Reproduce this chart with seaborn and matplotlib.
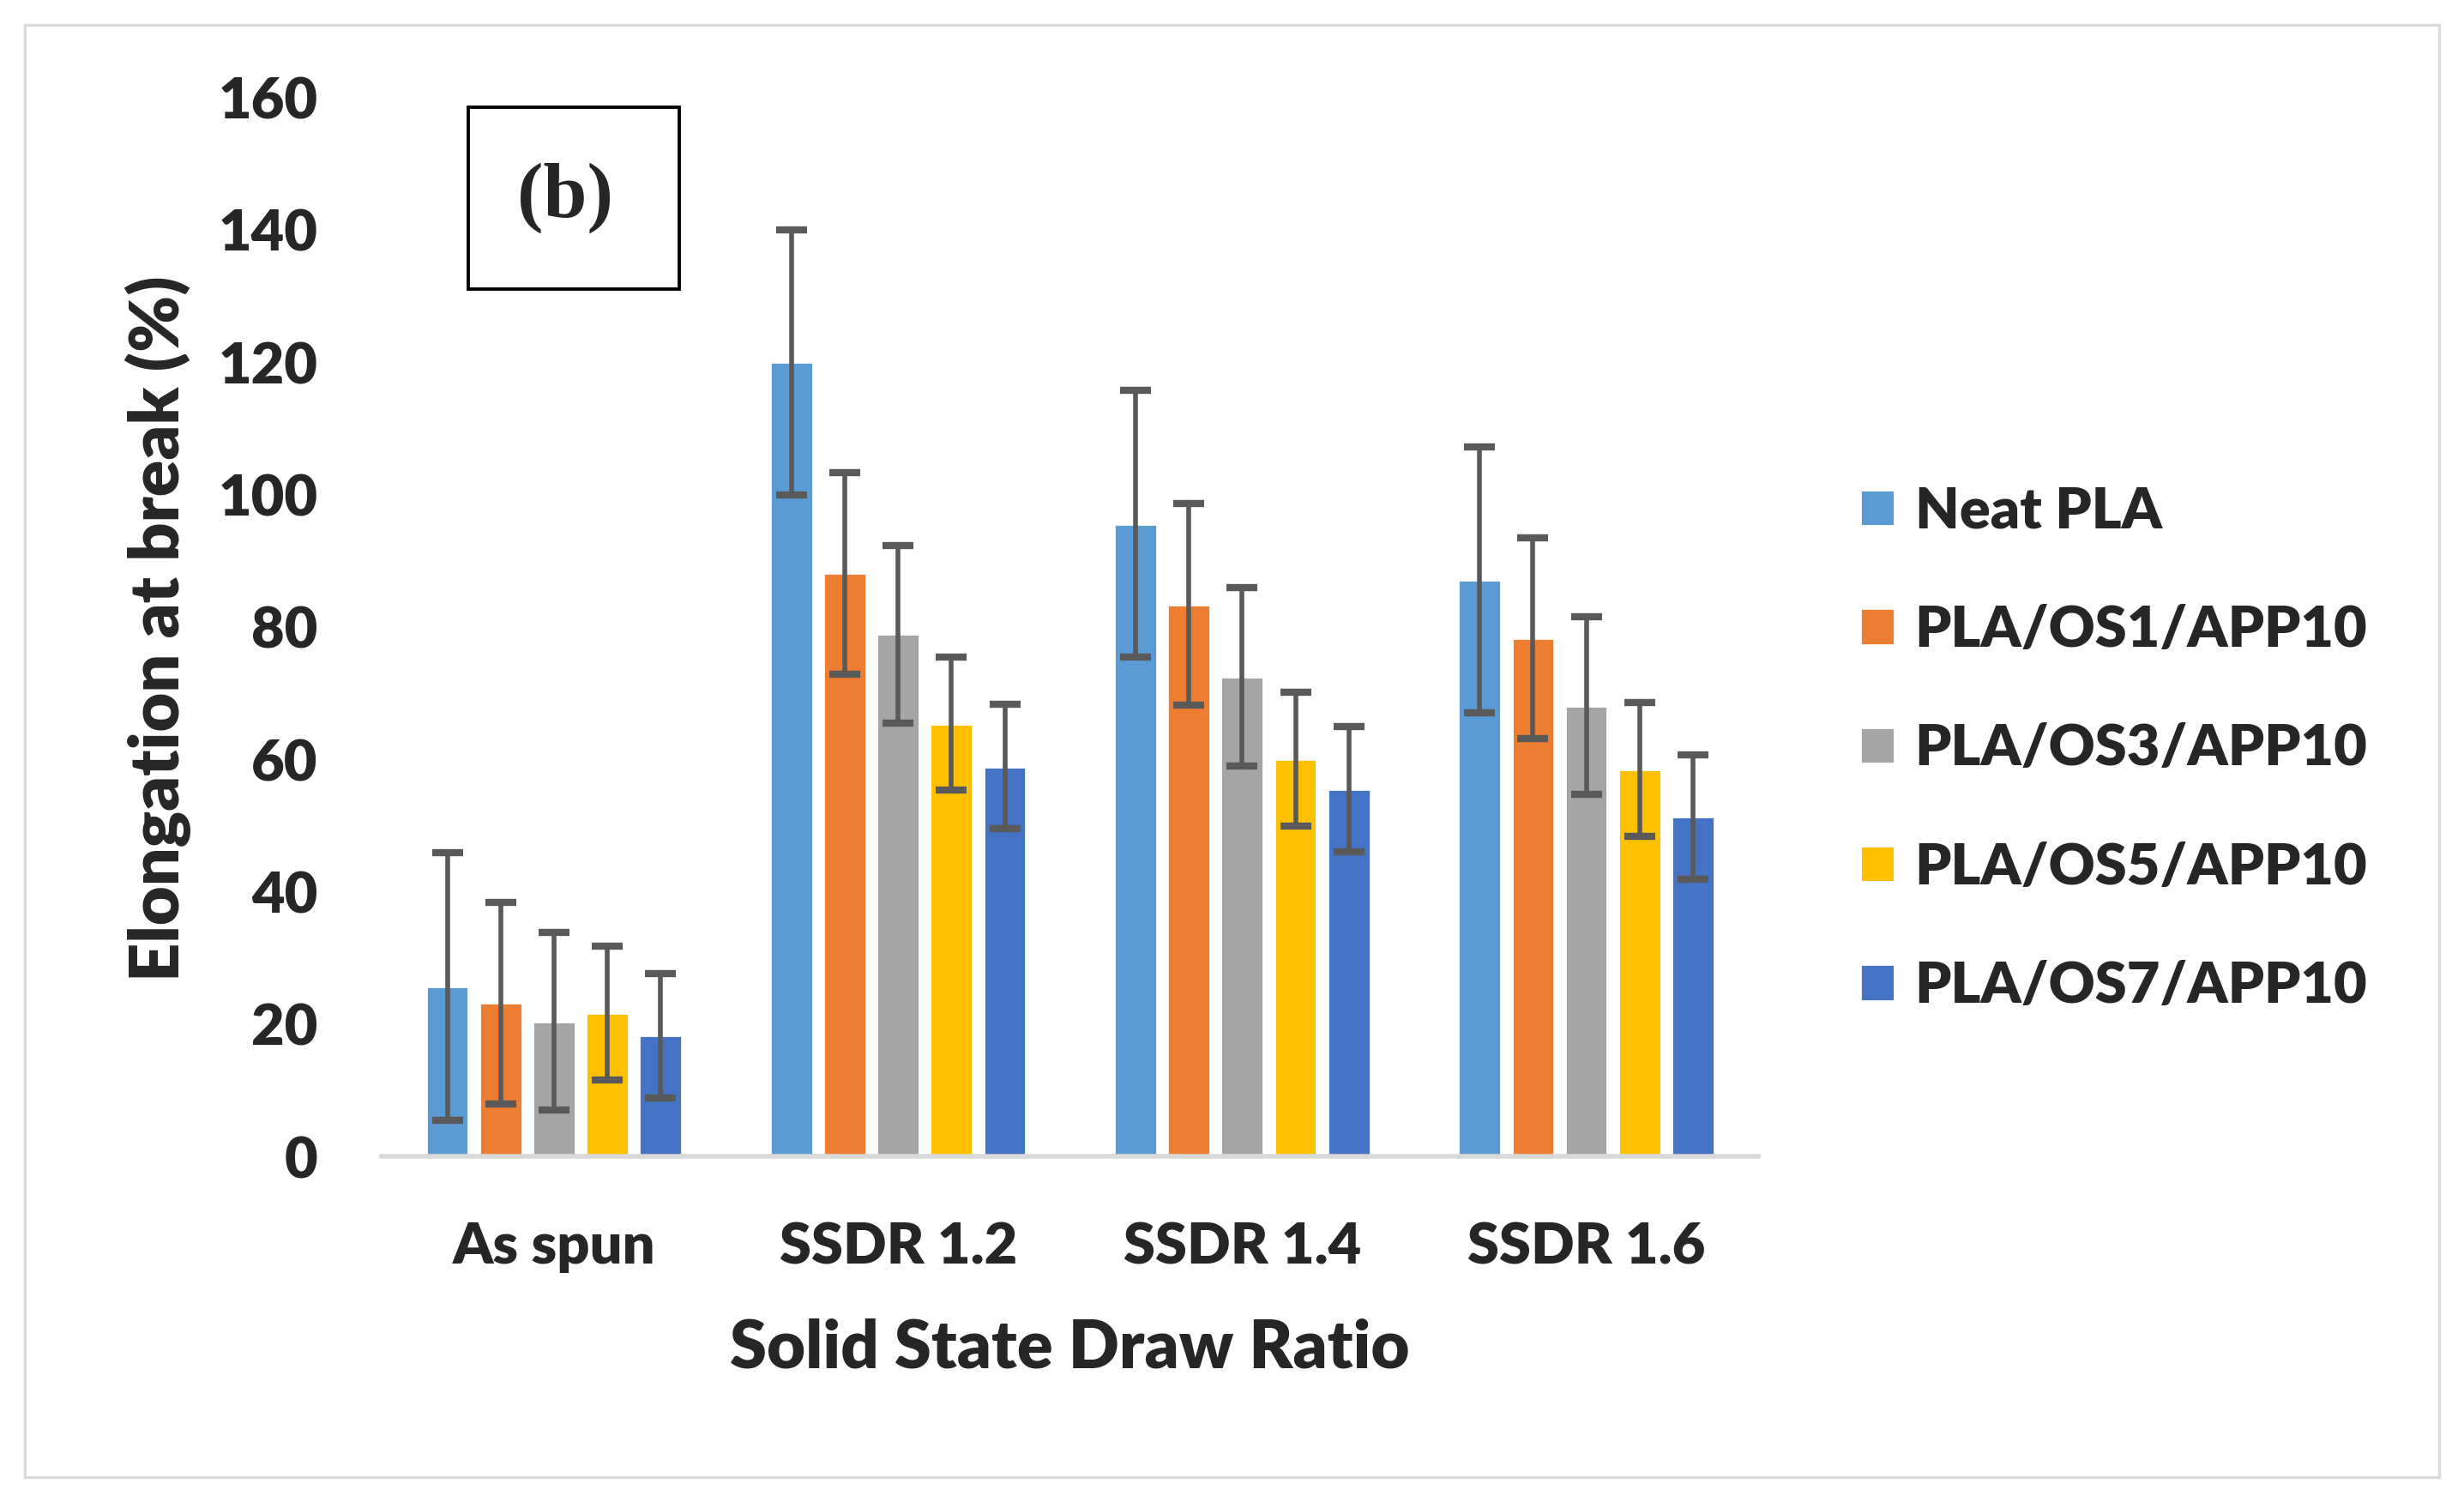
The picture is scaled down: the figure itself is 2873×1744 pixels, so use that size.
import matplotlib
matplotlib.use("Agg")
import matplotlib.pyplot as plt
from matplotlib.patches import Rectangle
import numpy as np
import pandas as pd
import seaborn as sns

# values
categories = ["As spun", "SSDR 1.2", "SSDR 1.4", "SSDR 1.6"]
series = ["Neat PLA", "PLA/OS1/APP10", "PLA/OS3/APP10", "PLA/OS5/APP10", "PLA/OS7/APP10"]

neat_pla = [25.7, 120.0, 95.6, 87.1]
os1_app10 = [23.2, 88.1, 83.4, 78.3]
os3_app10 = [20.4, 78.9, 72.5, 68.1]
os5_app10 = [21.7, 65.4, 60.0, 58.5]
os7_app10 = [18.3, 58.9, 55.5, 51.3]

neat_err = [20.2, 20.0, 20.1, 20.1]
os1_err = [15.2, 15.2, 15.2, 15.1]
os3_err = [13.4, 13.4, 13.5, 13.4]
os5_err = [10.1, 10.0, 10.1, 10.1]
os7_err = [9.4, 9.4, 9.4, 9.4]

colors = ["#5B9BD5", "#ED7D31", "#A5A5A5", "#FFC000", "#4472C4"]

values = [neat_pla, os1_app10, os3_app10, os5_app10, os7_app10]
errors = [neat_err, os1_err, os3_err, os5_err, os7_err]

rows = []
for s, vals in zip(series, values):
    for c, v in zip(categories, vals):
        rows.append({"category": c, "series": s, "value": v})
df = pd.DataFrame(rows)

sns.set_theme(style="white")
plt.rcParams["font.family"] = ["Lato", "DejaVu Sans"]
W = "heavy"

fig = plt.figure(figsize=(14.365, 8.72), dpi=200)
ax = fig.add_axes([0.155, 0.2269, 0.5586, 0.708])

sns.barplot(
    data=df, x="category", y="value", hue="series",
    order=categories, hue_order=series, palette=colors,
    errorbar=None, width=0.775, gap=0.2, saturation=1, ax=ax,
)

# error bars at the bar centres
bar_containers = list(ax.containers)
for i, cont in enumerate(bar_containers):
    xs = [b.get_x() + b.get_width() / 2 for b in cont]
    hs = [b.get_height() for b in cont]
    ax.errorbar(xs, hs, yerr=errors[i], fmt="none", ecolor="#595959",
                elinewidth=2.0, capsize=6.5, capthick=3.0, zorder=5)

ax.set_xlim(-0.5, 3.5)
ax.set_ylim(0, 160)
ax.set_yticks(np.arange(0, 161, 20))
ax.tick_params(axis="y", length=0, pad=27, labelsize=24)
ax.tick_params(axis="x", which="major", length=0, pad=27, labelsize=24)
ax.set_xticks(np.arange(-0.5, 3.6, 1.0), minor=True)
ax.tick_params(axis="x", which="minor", length=8, width=1.8, color="#D9D9D9",
               direction="out")
for lab in ax.get_xticklabels() + ax.get_yticklabels():
    lab.set_fontweight(W)

for side in ["top", "right", "left"]:
    ax.spines[side].set_visible(False)
ax.spines["bottom"].set_color("#D9D9D9")
ax.spines["bottom"].set_linewidth(2)
ax.grid(False)
ax.set_xlabel("")
ax.set_ylabel("")

fig.text(0.064, 0.58, "Elongation at break (%)", rotation=90, ha="center",
         va="center", fontsize=28.5, fontweight=W)
fig.text(0.434, 0.0987, "Solid State Draw Ratio", ha="center", va="center",
         fontsize=28, fontweight=W)

# legend
handles, labels = ax.get_legend_handles_labels()
ax.legend(handles, labels, loc="center left", bbox_to_anchor=(0.7435, 0.4995),
          bbox_transform=fig.transFigure, frameon=False,
          handlelength=0.6, handleheight=0.6, handletextpad=0.35,
          labelspacing=1.16, borderpad=0, prop={"weight": W, "size": 24})

# panel label box
fig.patches.append(Rectangle((0.190, 0.8067), 0.0855, 0.1218, transform=fig.transFigure,
                             fill=False, edgecolor="black", linewidth=1.4))
fig.text(0.2295, 0.8676, "(b)", ha="center", va="center", fontsize=33,
         fontweight="bold", family=["Liberation Serif", "DejaVu Serif"])

# outer frame
fig.patches.append(Rectangle((0.0102, 0.0126), 0.9796, 0.9706, transform=fig.transFigure,
                             fill=False, edgecolor="#D9D9D9", linewidth=1.2))

fig.savefig("out.png", dpi=200, facecolor="white")
